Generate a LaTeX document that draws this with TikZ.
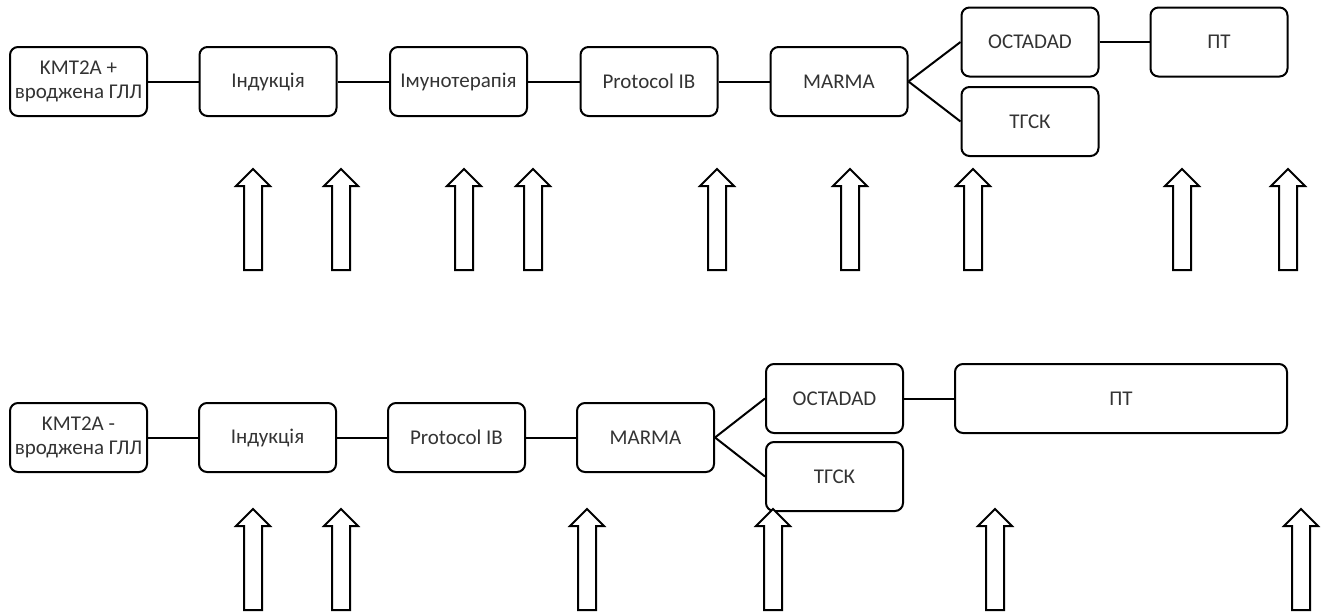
\documentclass[tikz,border=0pt]{standalone}
\usepackage{fontspec}
\setmainfont{Carlito}
\usepackage{tikz}

\tikzset{
  stage/.style={draw, line width=1pt, rounded corners=4pt, inner sep=1pt,
    minimum width=68.5pt, minimum height=34.5pt, align=center,
    text=black!80, font=\fontsize{10.5}{12}\selectfont},
  link/.style={line width=1pt},
  uparrow/.pic={\draw[line width=1pt, fill=white]
    (0,0) -- (17,17) -- (9,17) -- (9,101) -- (-9,101) -- (-9,17) -- (-17,17) -- cycle;}
}

\begin{document}
\begin{tikzpicture}[x=0.5pt, y=-0.5pt]
\useasboundingbox (0,0) rectangle (1328,611);
% upper chain: KMT2A +
\path (78.5,81.5) node[stage] (k1) {KMT2A +\\вроджена ГЛЛ}
		(268,81.5) node[stage] (i1) {Індукція}
		(458.5,81.5) node[stage] (im1) {Імунотерапія}
		(649,81.5) node[stage] (p1) {Protocol IB}
		(839,81.5) node[stage] (m1) {MARMA}
		(1030,42) node[stage] (o1) {OCTADAD}
		(1030,121.5) node[stage] (t1) {ТГСК}
		(1219,42) node[stage] (pt1) {ПТ}
		;
\draw[link] (k1) -- (i1);
\draw[link] (i1) -- (im1);
\draw[link] (im1) -- (p1);
\draw[link] (p1) -- (m1);
\draw[link] (m1.east) -- (o1.west);
\draw[link] (m1.east) -- (t1.west);
\draw[link] (o1) -- (pt1);
% lower chain: KMT2A -
\path (78.5,437.5) node[stage] (k2) {KMT2A -\\вроджена ГЛЛ}
		(267.5,437.5) node[stage] (i2) {Індукція}
		(456.5,437.5) node[stage] (p2) {Protocol IB}
		(645.5,437.5) node[stage] (m2) {MARMA}
		(834.5,398.5) node[stage] (o2) {OCTADAD}
		(834.5,476.5) node[stage] (t2) {ТГСК}
		(1121,398.5) node[stage, minimum width=166pt] (pt2) {ПТ}
		;
\draw[link] (k2) -- (i2);
\draw[link] (i2) -- (p2);
\draw[link] (p2) -- (m2);
\draw[link] (m2.east) -- (o2.west);
\draw[link] (m2.east) -- (t2.west);
\draw[link] (o2) -- (pt2);
% time points
\foreach \x in {253,341,464,533,717,850,973,1182,1288}
  \pic at (\x,169) {uparrow};
\foreach \x in {253,341,587,773,995,1301}
  \pic at (\x,509) {uparrow};
\end{tikzpicture}
\end{document}
